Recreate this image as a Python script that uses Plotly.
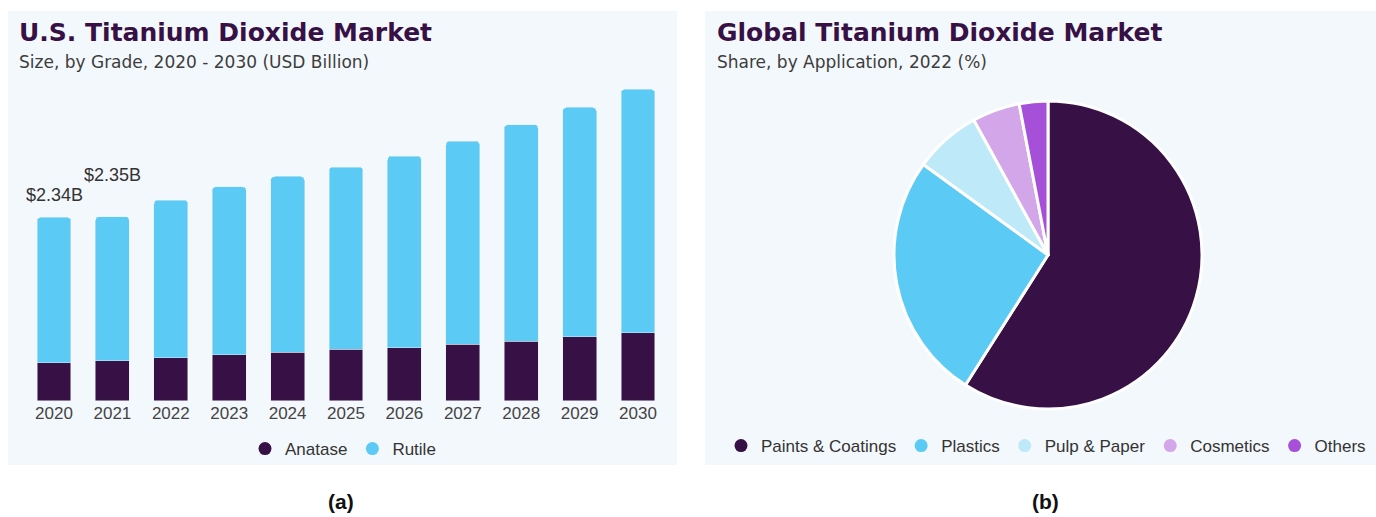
import plotly.graph_objects as go

# U.S. market size by grade (USD billion)
years = ["2020", "2021", "2022", "2023", "2024", "2025", "2026", "2027", "2028", "2029", "2030"]
anatase = [0.49, 0.51, 0.55, 0.59, 0.62, 0.66, 0.68, 0.72, 0.76, 0.82, 0.87]
rutile = [1.85, 1.84, 2.01, 2.14, 2.24, 2.32, 2.44, 2.59, 2.76, 2.92, 3.10]
labelled_years = ["2020", "2021"]
label_shift = [10, 30]

# Global market share by application, 2022 (%)
applications = ["Paints & Coatings", "Plastics", "Pulp & Paper", "Cosmetics", "Others"]
shares = [59.0, 26.0, 7.0, 5.0, 3.0]

DARK = "#371045"
BLUE = "#5BCBF5"
app_colors = [DARK, BLUE, "#BDE9F9", "#D3A6EA", "#A64FD9"]
PANEL = "#F3F8FC"
W, H = 1376, 517


def px_x(p):
    return p / W


def px_y(p):
    return (H - p) / H


fig = go.Figure()

fig.add_trace(go.Bar(x=years, y=anatase, name="Anatase", marker_color=DARK,
                     showlegend=False))
fig.add_trace(go.Bar(x=years, y=rutile, name="Rutile", marker_color=BLUE,
                     showlegend=False))

# circle swatches for the bar legend
for name, col in [("Anatase", DARK), ("Rutile", BLUE)]:
    fig.add_trace(go.Scatter(x=[None], y=[None], mode="markers", name=name,
                             marker=dict(color=col, size=13, symbol="circle"),
                             legend="legend"))

fig.add_trace(go.Pie(labels=applications, values=shares, sort=False,
                     direction="clockwise", rotation=0,
                     marker=dict(colors=app_colors, line=dict(color="white", width=3)),
                     textinfo="none", hoverinfo="label+percent", showlegend=False,
                     domain=dict(x=[px_x(894), px_x(1202)], y=[px_y(409), px_y(101)])))

# circle swatches for the pie legend
for name, col in zip(applications, app_colors):
    fig.add_trace(go.Scatter(x=[None], y=[None], mode="markers", name=name,
                             marker=dict(color=col, size=13, symbol="circle"),
                             legend="legend2"))

totals = [round(a + r, 2) for a, r in zip(anatase, rutile)]
annotations = []
for yr, shift in zip(labelled_years, label_shift):
    i = years.index(yr)
    annotations.append(dict(x=i, y=totals[i], xref="x", yref="y",
                            text="$" + f"{totals[i]:.2f}B",
                            showarrow=False, yanchor="bottom", yshift=shift,
                            font=dict(family="Liberation Sans, Arial", size=18, color="#333333")))

title_font = dict(family="DejaVu Sans", size=25, color=DARK, weight="bold")
sub_font = dict(family="DejaVu Sans", size=17, color="#3d3d3d")
caption_font = dict(family="Liberation Sans, Arial", size=21, color="#111111")
annotations += [
    dict(x=px_x(17), y=px_y(33), xref="paper", yref="paper", xanchor="left", yanchor="middle",
         text="U.S. Titanium Dioxide Market", showarrow=False, font=title_font),
    dict(x=px_x(17), y=px_y(62), xref="paper", yref="paper", xanchor="left", yanchor="middle",
         text="Size, by Grade, 2020 - 2030 (USD Billion)", showarrow=False, font=sub_font),
    dict(x=px_x(715), y=px_y(33), xref="paper", yref="paper", xanchor="left", yanchor="middle",
         text="Global Titanium Dioxide Market", showarrow=False, font=title_font),
    dict(x=px_x(715), y=px_y(62), xref="paper", yref="paper", xanchor="left", yanchor="middle",
         text="Share, by Application, 2022 (%)", showarrow=False, font=sub_font),
    dict(x=px_x(341), y=px_y(501), xref="paper", yref="paper", xanchor="center", yanchor="middle",
         text="<b>(a)</b>", showarrow=False, font=caption_font),
    dict(x=px_x(1045), y=px_y(501), xref="paper", yref="paper", xanchor="center", yanchor="middle",
         text="<b>(b)</b>", showarrow=False, font=caption_font),
]

shapes = [
    dict(type="rect", xref="paper", yref="paper", x0=px_x(8), x1=px_x(677),
         y0=px_y(465), y1=px_y(11), fillcolor=PANEL, line=dict(width=0), layer="below"),
    dict(type="rect", xref="paper", yref="paper", x0=px_x(705), x1=1,
         y0=px_y(465), y1=px_y(11), fillcolor=PANEL, line=dict(width=0), layer="below"),
]

legend_font = dict(family="Liberation Sans, Arial", size=17, color="#333333")
fig.update_layout(
    width=W, height=H, autosize=False,
    margin=dict(l=0, r=0, t=0, b=0),
    paper_bgcolor="white", plot_bgcolor="rgba(0,0,0,0)",
    barmode="stack", bargap=0.42, barcornerradius=4,
    xaxis=dict(domain=[px_x(24.8), px_x(667.2)], type="category", range=[-0.5, 10.5],
               showgrid=False, showline=False, zeroline=False, ticks="",
               tickfont=dict(family="Liberation Sans, Arial", size=17, color="#444444"),
               fixedrange=True),
    yaxis=dict(domain=[px_y(401), px_y(63.45)], range=[0, 4.3], visible=True,
               showticklabels=False, ticks="", showline=False,
               showgrid=False, zeroline=False, fixedrange=True),
    legend=dict(orientation="h", x=px_x(245), y=px_y(449), xanchor="left", yanchor="middle",
                traceorder="normal", font=legend_font, bgcolor="rgba(0,0,0,0)",
                itemclick=False),
    legend2=dict(orientation="h", x=px_x(721), y=px_y(446), xanchor="left", yanchor="middle",
                 traceorder="normal", font=legend_font, bgcolor="rgba(0,0,0,0)",
                 itemclick=False),
    annotations=annotations,
    shapes=shapes,
)

fig.write_html("out.html")
